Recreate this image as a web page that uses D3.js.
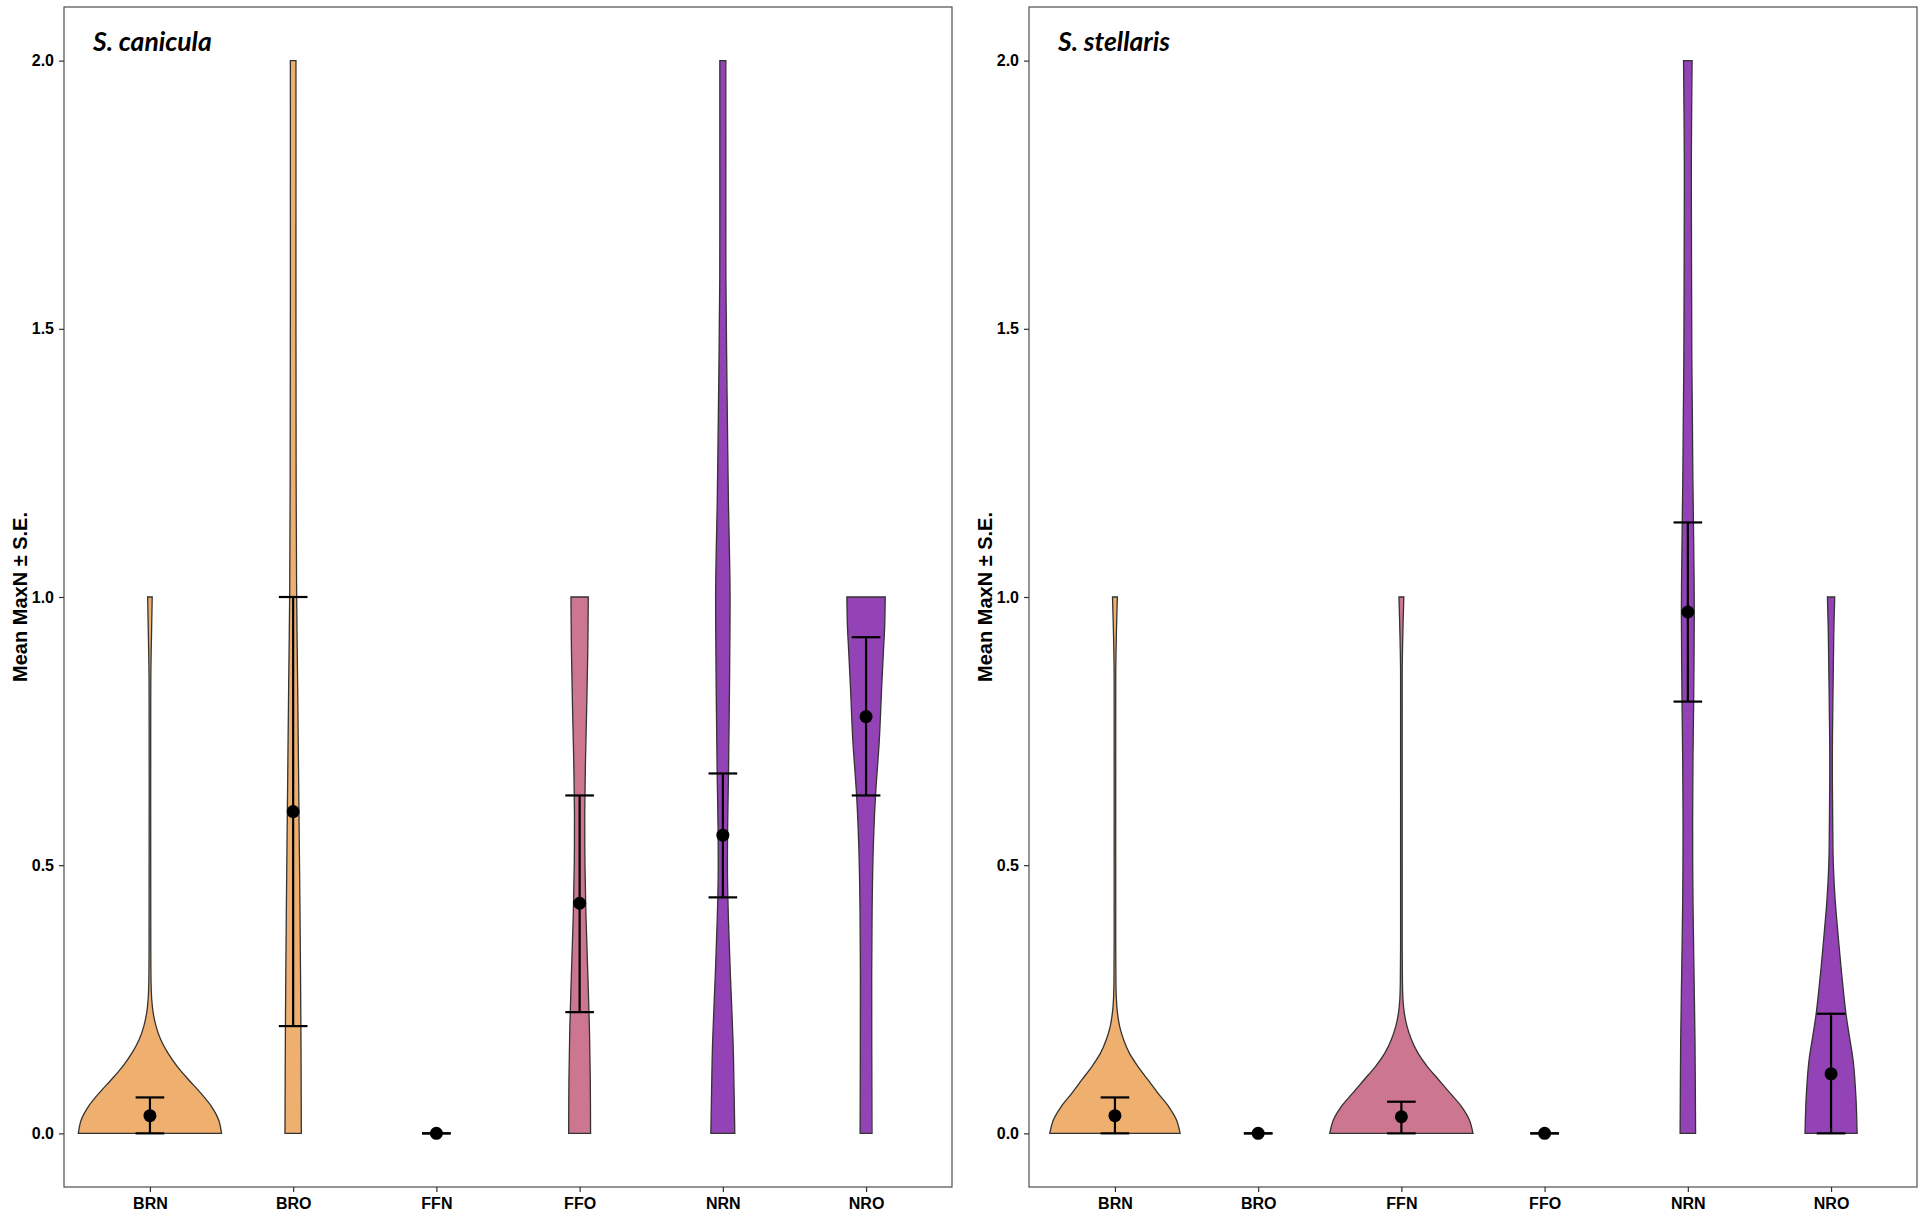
<!DOCTYPE html>
<html>
<head>
<meta charset="utf-8">
<script src="https://cdn.jsdelivr.net/npm/d3@7"></script>
<style>
  body { margin: 0; background: #fff; }
  svg { display: block; }
</style>
</head>
<body>
<script>
// groups on the x axis, same for both panels
const categories = ['BRN', 'BRO', 'FFN', 'FFO', 'NRN', 'NRO'];
const panelTitles = ['S. canicula', 'S. stellaris'];
const yTickValues = [0, 0.5, 1, 1.5, 2];
const groupColours = ['#EFB06F', '#EFB06F', '#CC778F', '#CC778F', '#9343B5', '#9343B5'];

// mean and S.E. limits
const caniculaMean  = [0.033, 0.60, 0, 0.429, 0.556, 0.777];
const caniculaLower = [0, 0.20, 0, 0.226, 0.44, 0.63];
const caniculaUpper = [0.067, 1.00, 0, 0.63, 0.671, 0.925];

const stellarisMean  = [0.033, 0, 0.031, 0, 0.972, 0.111];
const stellarisLower = [0, 0, 0, 0, 0.805, 0];
const stellarisUpper = [0.067, 0, 0.059, 0, 1.139, 0.223];

// violin outlines: [MaxN, relative half width] (1 = widest violin of the panel)
const caniculaBRN = [[0, 1.0], [0.025, 0.96], [0.05, 0.86], [0.075, 0.71], [0.1, 0.54], [0.125, 0.38],
  [0.15, 0.25], [0.175, 0.15], [0.2, 0.085], [0.225, 0.045], [0.25, 0.025], [0.28, 0.016], [0.35, 0.012],
  [0.5, 0.011], [0.8, 0.011], [0.87, 0.014], [0.93, 0.022], [1.0, 0.032]];
const caniculaBRO = [[0, 0.114], [0.2, 0.108], [0.434, 0.094], [0.6, 0.081], [0.832, 0.063], [1.0, 0.049],
  [1.2, 0.042], [1.5, 0.039], [2.0, 0.039]];
const caniculaFFN = [];
const caniculaFFO = [[0, 0.153], [0.1, 0.149], [0.2, 0.136], [0.3, 0.114], [0.4, 0.09], [0.5, 0.075],
  [0.6, 0.072], [0.7, 0.083], [0.8, 0.1], [0.9, 0.114], [1.0, 0.121]];
const caniculaNRN = [[0, 0.167], [0.08, 0.157], [0.17, 0.143], [0.3, 0.104], [0.4, 0.078], [0.48, 0.065],
  [0.57, 0.067], [0.67, 0.079], [0.75, 0.086], [0.83, 0.093], [0.9, 0.097], [1.0, 0.101], [1.08, 0.093],
  [1.17, 0.079], [1.27, 0.069], [1.37, 0.06], [1.45, 0.053], [1.6, 0.043], [1.8, 0.042], [2.0, 0.042]];
const caniculaNRO = [[0, 0.083], [0.3, 0.079], [0.434, 0.086], [0.533, 0.101], [0.63, 0.132], [0.733, 0.185],
  [0.832, 0.218], [0.9, 0.243], [0.945, 0.26], [1.0, 0.268]];

const stellarisBRN = [[0, 0.91], [0.025, 0.86], [0.05, 0.75], [0.075, 0.6], [0.1, 0.46], [0.125, 0.32],
  [0.15, 0.2], [0.175, 0.12], [0.2, 0.065], [0.225, 0.035], [0.25, 0.02], [0.28, 0.014], [0.35, 0.011],
  [0.5, 0.011], [0.8, 0.011], [0.87, 0.012], [0.93, 0.02], [1.0, 0.034]];
const stellarisBRO = [];
const stellarisFFN = [[0, 1.0], [0.025, 0.95], [0.05, 0.84], [0.075, 0.68], [0.1, 0.52], [0.125, 0.36],
  [0.15, 0.23], [0.175, 0.14], [0.2, 0.078], [0.225, 0.04], [0.25, 0.022], [0.28, 0.015], [0.35, 0.011],
  [0.5, 0.011], [0.8, 0.011], [0.87, 0.012], [0.93, 0.02], [1.0, 0.034]];
const stellarisFFO = [];
const stellarisNRN = [[0, 0.108], [0.17, 0.1], [0.3, 0.086], [0.43, 0.072], [0.57, 0.067], [0.7, 0.072],
  [0.8, 0.081], [0.97, 0.09], [1.05, 0.086], [1.14, 0.078], [1.24, 0.069], [1.34, 0.063], [1.44, 0.056],
  [1.55, 0.053], [1.7, 0.05], [1.8, 0.049], [1.9, 0.053], [2.0, 0.06]];
const stellarisNRO = [[0, 0.364], [0.068, 0.347], [0.134, 0.31], [0.18, 0.257], [0.223, 0.208], [0.3, 0.146],
  [0.367, 0.1], [0.434, 0.058], [0.5, 0.032], [0.566, 0.024], [0.7, 0.018], [0.832, 0.028], [0.932, 0.038],
  [1.0, 0.051]];

const panels = [
  { title: panelTitles[0], mean: caniculaMean, lower: caniculaLower, upper: caniculaUpper,
    violins: [caniculaBRN, caniculaBRO, caniculaFFN, caniculaFFO, caniculaNRN, caniculaNRO] },
  { title: panelTitles[1], mean: stellarisMean, lower: stellarisLower, upper: stellarisUpper,
    violins: [stellarisBRN, stellarisBRO, stellarisFFN, stellarisFFO, stellarisNRN, stellarisNRO] }
];

const width = 1926;
const height = 1220;
const panelLeft = [64, 1029];
const panelWidth = 888;
const panelTop = 7;
const panelBottom = 1187;
const labelFont = "'Liberation Sans', Arial, sans-serif";

const svg = d3.select('body').append('svg')
    .attr('width', width)
    .attr('height', height);

const y = d3.scaleLinear()
    .domain([-0.1, 2.1])
    .range([panelBottom, panelTop]);

panels.forEach((p, i) => {
    const left = panelLeft[i];
    const x = d3.scalePoint()
        .domain(categories)
        .range([left, left + panelWidth])
        .padding(0.6);
    const half = d3.scaleLinear().domain([0, 1]).range([0, x.step() / 2]);
    const capHalf = x.step() * 0.1;

    const g = svg.append('g');

    // violins
    const area = d3.area()
        .curve(d3.curveCatmullRom)
        .y(d => y(d[0]));

    categories.forEach((c, j) => {
        const shape = p.violins[j];
        if (!shape.length) return;
        area.x0(d => x(c) - half(d[1]))
            .x1(d => x(c) + half(d[1]));
        g.append('path')
            .datum(shape)
            .attr('d', area)
            .attr('fill', groupColours[j])
            .attr('stroke', '#333')
            .attr('stroke-width', 1.3);
    });

    // error bars
    categories.forEach((c, j) => {
        const cx = x(c);
        g.append('line')
            .attr('x1', cx).attr('x2', cx)
            .attr('y1', y(p.lower[j])).attr('y2', y(p.upper[j]))
            .attr('stroke', '#000').attr('stroke-width', 2.2);
        [p.lower[j], p.upper[j]].forEach(v => {
            g.append('line')
                .attr('x1', cx - capHalf).attr('x2', cx + capHalf)
                .attr('y1', y(v)).attr('y2', y(v))
                .attr('stroke', '#000').attr('stroke-width', 2.2);
        });
    });

    // means
    g.selectAll('circle.mean')
        .data(categories)
        .enter().append('circle')
        .attr('class', 'mean')
        .attr('cx', d => x(d))
        .attr('cy', (d, j) => y(p.mean[j]))
        .attr('r', 6.5)
        .attr('fill', '#000');

    // panel border
    g.append('rect')
        .attr('x', left).attr('y', panelTop)
        .attr('width', panelWidth).attr('height', panelBottom - panelTop)
        .attr('fill', 'none')
        .attr('stroke', '#4d4d4d')
        .attr('stroke-width', 1.2);

    // axes
    const yAxis = g.append('g')
        .attr('transform', `translate(${left},0)`)
        .call(d3.axisLeft(y).tickValues(yTickValues).tickFormat(d3.format('.1f')).tickSize(5).tickPadding(5));
    const xAxis = g.append('g')
        .attr('transform', `translate(0,${panelBottom})`)
        .call(d3.axisBottom(x).tickSize(5).tickPadding(6));

    [yAxis, xAxis].forEach(ax => {
        ax.select('.domain').remove();
        ax.selectAll('line').attr('stroke', '#333').attr('stroke-width', 1.2);
        ax.selectAll('text')
            .attr('fill', '#000')
            .style('font-family', labelFont)
            .style('font-weight', 'bold')
            .style('font-size', '16px');
    });

    // y title
    g.append('text')
        .attr('transform', `translate(${left - 37},${(panelTop + panelBottom) / 2}) rotate(-90)`)
        .attr('text-anchor', 'middle')
        .style('font-family', labelFont)
        .style('font-weight', 'bold')
        .style('font-size', '20px')
        .text('Mean MaxN ± S.E.');

    // species title
    g.append('text')
        .attr('x', left + 29)
        .attr('y', 51)
        .style('font-family', 'Lato, sans-serif')
        .style('font-weight', 'bold')
        .style('font-style', 'italic')
        .style('font-size', '26.5px')
        .text(p.title);
});
</script>
</body>
</html>
